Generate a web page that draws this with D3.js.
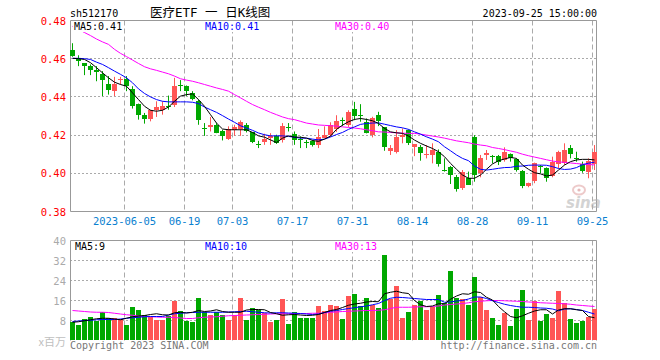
<!DOCTYPE html>
<html><head><meta charset="utf-8">
<script src="https://cdn.jsdelivr.net/npm/d3@7/dist/d3.min.js"></script>
<style>
html,body{margin:0;padding:0;background:#fff;}
svg{display:block;}
text{font-family:"DejaVu Sans Mono","Liberation Mono",monospace;font-size:10px;}
</style></head><body>
<svg id="c" width="660" height="360"></svg>
<script>
const dates = ["05-23","05-24","05-25","05-26","05-29","05-30","05-31",
"06-01","06-02","06-05","06-06","06-07","06-08","06-09","06-12","06-13","06-14","06-15","06-16","06-19","06-20","06-21","06-26","06-27","06-28","06-29","06-30",
"07-03","07-04","07-05","07-06","07-07","07-10","07-11","07-12","07-13","07-14","07-17","07-18","07-19","07-20","07-21","07-24","07-25","07-26","07-27","07-28","07-31",
"08-01","08-02","08-03","08-04","08-07","08-08","08-09","08-10","08-11","08-14","08-15","08-16","08-17","08-18","08-21","08-22","08-23","08-24","08-25","08-28","08-29","08-30","08-31",
"09-01","09-04","09-05","09-06","09-07","09-08","09-11","09-12","09-13","09-14","09-15","09-18","09-19","09-20","09-21","09-22","09-25"];

const open = [0.4645,0.4604,0.4575,0.4560,0.4540,0.4518,0.4465,0.4430,0.4488,0.4495,
0.4442,0.4365,0.4307,0.4284,0.4333,0.4333,0.4353,0.4354,0.4462,0.4456,
0.4418,0.4377,0.4235,0.4246,0.4254,0.4219,0.4180,0.4225,0.4232,0.4254,
0.4214,0.4154,0.4167,0.4184,0.4193,0.4175,0.4242,0.4207,0.4177,0.4163,
0.4167,0.4149,0.4184,0.4200,0.4235,0.4280,0.4252,0.4339,0.4303,0.4270,
0.4203,0.4304,0.4240,0.4113,0.4110,0.4191,0.4226,0.4136,0.4136,0.4098,
0.4096,0.4113,0.4018,0.4035,0.3979,0.3927,0.3974,0.4191,0.4000,0.4096,
0.4088,0.4090,0.4070,0.4101,0.4073,0.4014,0.3930,0.3957,0.4036,0.4026,
0.3986,0.4049,0.4056,0.4130,0.4079,0.4049,0.4009,0.4052];
const high = [0.4681,0.4618,0.4576,0.4570,0.4561,0.4535,0.4509,0.4505,0.4505,0.4509,
0.4456,0.4365,0.4316,0.4333,0.4377,0.4377,0.4407,0.4500,0.4488,0.4460,
0.4430,0.4386,0.4263,0.4295,0.4263,0.4228,0.4246,0.4254,0.4277,0.4263,
0.4214,0.4170,0.4207,0.4210,0.4202,0.4263,0.4263,0.4219,0.4193,0.4175,
0.4175,0.4232,0.4246,0.4267,0.4304,0.4292,0.4330,0.4374,0.4362,0.4287,
0.4296,0.4322,0.4240,0.4148,0.4226,0.4235,0.4230,0.4153,0.4148,0.4148,
0.4157,0.4125,0.4078,0.4038,0.3991,0.4017,0.4009,0.4200,0.4096,0.4122,
0.4096,0.4096,0.4136,0.4104,0.4078,0.4017,0.3951,0.4056,0.4043,0.4031,
0.4087,0.4118,0.4157,0.4148,0.4113,0.4061,0.4078,0.4148];
const low = [0.4610,0.4561,0.4514,0.4514,0.4482,0.4404,0.4412,0.4404,0.4465,0.4430,
0.4339,0.4281,0.4260,0.4272,0.4295,0.4307,0.4333,0.4347,0.4430,0.4405,
0.4382,0.4254,0.4196,0.4219,0.4210,0.4172,0.4175,0.4196,0.4196,0.4214,
0.4158,0.4132,0.4149,0.4149,0.4154,0.4161,0.4219,0.4149,0.4132,0.4132,
0.4140,0.4132,0.4184,0.4190,0.4217,0.4247,0.4243,0.4278,0.4270,0.4209,
0.4188,0.4247,0.4118,0.4096,0.4104,0.4157,0.4148,0.4090,0.4066,0.4078,
0.4052,0.4035,0.4009,0.3944,0.3904,0.3913,0.3939,0.3956,0.3979,0.4070,
0.4052,0.4043,0.4061,0.4061,0.4009,0.3922,0.3927,0.3948,0.4000,0.3956,
0.3979,0.4026,0.4043,0.4078,0.4061,0.4003,0.3974,0.4017];
const close = [0.4613,0.4588,0.4561,0.4540,0.4530,0.4488,0.4433,0.4465,0.4495,0.4456,
0.4354,0.4307,0.4286,0.4333,0.4347,0.4354,0.4349,0.4456,0.4458,0.4430,
0.4386,0.4277,0.4233,0.4254,0.4214,0.4193,0.4232,0.4242,0.4267,0.4225,
0.4163,0.4152,0.4181,0.4193,0.4158,0.4246,0.4240,0.4175,0.4175,0.4160,
0.4146,0.4189,0.4202,0.4252,0.4275,0.4278,0.4322,0.4304,0.4301,0.4212,
0.4292,0.4270,0.4136,0.4130,0.4191,0.4200,0.4160,0.4153,0.4104,0.4102,
0.4122,0.4049,0.4016,0.3991,0.3917,0.4009,0.3939,0.3991,0.4078,0.4108,
0.4086,0.4061,0.4113,0.4078,0.4017,0.3936,0.3948,0.4052,0.4034,0.3974,
0.4061,0.4113,0.4122,0.4101,0.4077,0.4014,0.4066,0.4113];

// volume, millions
const volume = [7.5,6.4,8.8,9.6,8.0,11.6,9.1,9.1,8.8,6.4,
13.6,12.4,10.4,9.6,8.4,8.4,10.0,16.0,12.0,7.7,
7.3,17.2,11.6,10.4,11.6,10.4,8.4,10.4,17.2,8.4,
13.2,12.4,11.2,7.6,8.4,16.8,6.8,11.6,9.2,9.2,
9.2,14.0,12.0,14.4,14.0,8.8,18.0,18.8,14.0,17.2,
14.4,13.2,34.4,16.7,22.0,9.2,11.6,14.4,16.0,12.4,
13.6,18.4,15.0,28.0,17.2,16.8,14.4,25.6,17.6,12.4,
9.2,6.4,11.2,6.0,12.8,20.4,8.4,16.0,8.0,10.8,
9.2,20.0,15.2,8.8,7.2,8.0,9.6,12.8];

const ma5 = [0.4602,0.4600,0.4596,0.4579,0.4553,0.4526,0.4500,0.4477,0.4465,0.4456,
0.4421,0.4386,0.4351,0.4330,0.4325,0.4330,0.4347,0.4377,0.4404,0.4412,
0.4416,0.4386,0.4351,0.4307,0.4263,0.4232,0.4228,0.4228,0.4228,0.4228,
0.4214,0.4196,0.4189,0.4175,0.4161,0.4184,0.4196,0.4189,0.4189,0.4184,
0.4172,0.4167,0.4179,0.4195,0.4230,0.4252,0.4270,0.4282,0.4287,0.4282,
0.4275,0.4261,0.4235,0.4217,0.4212,0.4209,0.4195,0.4174,0.4157,0.4143,
0.4130,0.4113,0.4087,0.4052,0.4021,0.3991,0.3974,0.3974,0.3991,0.4021,
0.4049,0.4066,0.4075,0.4083,0.4078,0.4043,0.4021,0.4003,0.3997,0.3986,
0.3991,0.4017,0.4043,0.4061,0.4070,0.4073,0.4073,0.4070];
const ma10 = [0.4602,0.4602,0.4600,0.4596,0.4582,0.4570,0.4553,0.4535,0.4518,0.4500,
0.4474,0.4442,0.4418,0.4400,0.4386,0.4377,0.4374,0.4374,0.4374,0.4374,
0.4372,0.4365,0.4347,0.4333,0.4319,0.4302,0.4284,0.4267,0.4249,0.4237,
0.4225,0.4211,0.4202,0.4196,0.4196,0.4196,0.4193,0.4189,0.4184,0.4184,
0.4179,0.4175,0.4179,0.4190,0.4203,0.4214,0.4230,0.4243,0.4256,0.4261,
0.4263,0.4264,0.4257,0.4250,0.4243,0.4238,0.4230,0.4217,0.4205,0.4191,
0.4179,0.4165,0.4139,0.4118,0.4096,0.4078,0.4066,0.4038,0.4021,0.4017,
0.4021,0.4026,0.4030,0.4031,0.4037,0.4038,0.4042,0.4043,0.4043,0.4042,
0.4035,0.4025,0.4020,0.4022,0.4030,0.4045,0.4053,0.4058];
const ma30 = [0.4769,0.4753,0.4737,0.4721,0.4703,0.4688,0.4675,0.4649,0.4628,0.4611,
0.4593,0.4575,0.4558,0.4547,0.4539,0.4530,0.4521,0.4509,0.4495,0.4488,
0.4482,0.4474,0.4465,0.4456,0.4447,0.4439,0.4430,0.4412,0.4395,0.4377,
0.4360,0.4346,0.4333,0.4319,0.4307,0.4295,0.4286,0.4281,0.4272,0.4263,
0.4258,0.4253,0.4251,0.4249,0.4247,0.4243,0.4240,0.4237,0.4233,0.4228,
0.4223,0.4217,0.4216,0.4214,0.4212,0.4210,0.4209,0.4209,0.4205,0.4200,
0.4195,0.4190,0.4184,0.4177,0.4170,0.4165,0.4160,0.4153,0.4148,0.4144,
0.4135,0.4130,0.4124,0.4117,0.4110,0.4100,0.4092,0.4085,0.4078,0.4071,
0.4064,0.4060,0.4057,0.4054,0.4051,0.4048,0.4046,0.4044];

const vma5 = [7.3,7.5,7.9,8.3,8.7,8.9,8.9,8.6,8.3,8.9,
9.5,9.8,10.0,10.4,10.7,10.3,10.2,11.1,11.3,11.0,
11.3,12.0,11.6,11.8,12.3,11.6,11.3,11.3,11.3,12.2,
12.4,12.4,12.3,11.2,10.7,10.1,10.3,10.4,10.2,10.0,
10.1,10.4,11.2,12.0,12.4,13.2,14.1,14.6,14.9,15.4,
15.6,15.5,18.7,19.3,19.7,19.1,18.8,16.0,14.3,13.6,
13.8,14.7,14.7,16.5,17.8,18.7,18.5,19.5,19.2,17.3,
16.2,13.6,11.5,9.6,9.1,9.9,10.9,11.8,12.3,12.3,
10.6,12.2,12.7,12.7,12.3,12.0,9.6,9.1];
const vma10 = [7.6,7.8,8.0,8.1,8.3,8.4,8.4,8.4,8.6,8.9,
9.1,9.3,9.5,9.6,9.6,9.6,10.2,10.7,10.9,11.1,
11.2,11.3,11.3,11.3,11.3,11.3,11.4,11.5,11.6,11.7,
11.5,11.3,11.1,11.0,11.1,11.1,11.0,10.9,10.8,10.6,
10.4,10.6,11.2,11.7,12.0,12.4,12.8,13.1,13.5,13.8,
14.3,14.8,16.0,16.9,17.3,17.2,17.0,16.8,16.6,16.4,
16.4,16.4,15.3,15.4,15.8,16.0,16.6,17.4,17.4,16.8,
15.9,15.2,14.5,14.0,13.6,13.3,13.3,13.2,13.0,12.9,
12.6,11.9,12.6,12.7,12.4,12.0,11.3,10.6];
const vma30 = [12.0,11.8,11.6,11.4,11.3,11.3,11.2,10.9,10.6,10.3,
10.1,9.8,9.6,9.5,9.4,9.3,9.3,9.2,9.0,8.8,
8.8,9.1,9.3,9.4,9.5,9.7,9.9,10.0,10.1,10.2,
10.3,10.4,10.5,10.6,10.7,10.7,10.7,10.8,10.8,10.8,
10.9,10.9,11.0,11.3,11.4,11.6,11.7,11.8,11.9,12.0,
12.0,12.1,12.3,12.8,13.3,13.3,13.3,13.4,13.5,13.5,
13.6,13.8,14.2,14.4,14.6,14.8,15.1,15.5,15.7,15.9,
16.0,16.0,15.9,15.8,15.7,15.6,15.4,15.3,15.1,15.0,
14.9,14.8,14.7,14.5,14.2,14.0,13.8,13.6];

const priceTicks = [0.38,0.40,0.42,0.44,0.46,0.48];
const volTicks = [8,16,24,32,40];
const xTickDates = ["06-05","06-19","07-03","07-17","07-31","08-14","08-28","09-11","09-25"];
const xTickLabels = ["2023-06-05","06-19","07-03","07-17","07-31","08-14","08-28","09-11","09-25"];

const symbol = "sh512170";
const title = "医疗ETF 一 日K线图";
const stamp = "2023-09-25 15:00:00";

// ---------- drawing ----------
const svg = d3.select("#c");
const L = 70, R = 597;
const RED = "#ff5555", GREEN = "#00a800", GRID = "#aaaaaa", FRAME = "#999999";

const x = d3.scalePoint().domain(dates).range([72.5, 594.5]);
const y = d3.scaleLinear().domain([0.38, 0.48]).range([211.5, 20.5]);
const yv = d3.scaleLinear().domain([0, 40]).range([340.5, 240.5]);
const crisp = v => Math.floor(v) + 0.5;

// header
svg.append("text").attr("x", 70).attr("y", 17).text(symbol);
svg.append("text").attr("x", 150).attr("y", 17)
  .style("font-family", "'DejaVu Sans Mono','Noto Sans CJK SC',monospace").style("font-size", "12.5px").text(title);
svg.append("text").attr("x", R).attr("y", 17).attr("text-anchor", "end").text(stamp);

function panel(top, bottom, ys, ticks, bottomLine) {
  const g = svg.append("g");
  g.selectAll(".h").data(ticks.filter(t => crisp(ys(t)) > top + 1 && crisp(ys(t)) < bottom - 1)).join("line")
    .attr("x1", L).attr("x2", R).attr("y1", d => crisp(ys(d))).attr("y2", d => crisp(ys(d)))
    .attr("stroke", GRID).attr("stroke-dasharray", "2,2");
  g.selectAll(".v").data(xTickDates).join("line")
    .attr("x1", d => x(d) - 2).attr("x2", d => x(d) - 2).attr("y1", top).attr("y2", bottom)
    .attr("stroke", GRID).attr("stroke-dasharray", "5,3");
  g.append("path").attr("fill", "none").attr("stroke", FRAME)
    .attr("d", bottomLine
      ? `M${L + 0.5},${bottom}V${top}H${R - 0.5}V${bottom}H${L + 0.5}`
      : `M${L + 0.5},${bottom}V${top}H${R - 0.5}V${bottom}`);
  return g;
}

// price panel
panel(20.5, 211.5, y, priceTicks, true);
svg.selectAll(".pt").data(priceTicks).join("text")
  .attr("x", 66).attr("y", d => y(d) + 4).attr("text-anchor", "end")
  .attr("fill", "#ff0000").style("font-size", "10.5px").text(d => d.toFixed(2));

// sina watermark
const wm = svg.append("g").attr("opacity", 0.55);
wm.append("ellipse").attr("cx", 579).attr("cy", 190).attr("rx", 6).attr("ry", 4.5)
  .attr("fill", "none").attr("stroke", "#e0a0a0").attr("stroke-width", 2);
wm.append("circle").attr("cx", 579).attr("cy", 190).attr("r", 1.6).attr("fill", "#d08080");
wm.append("text").attr("x", 566).attr("y", 208).style("font-family", "'DejaVu Sans',sans-serif")
  .style("font-size", "15px").style("font-weight", "bold").style("font-style", "italic")
  .attr("fill", "#b0b0b0").text("sina");

// candles
const idx = d3.range(dates.length);
const up = i => close[i] > open[i];
const cg = svg.append("g");
cg.selectAll(".wick").data(idx).join("line")
  .attr("x1", i => x(dates[i])).attr("x2", i => x(dates[i]))
  .attr("y1", i => y(high[i])).attr("y2", i => y(low[i]))
  .attr("stroke", i => up(i) ? RED : GREEN);
cg.selectAll(".body").data(idx).join("rect")
  .attr("x", i => x(dates[i]) - 2.5).attr("width", 5)
  .attr("y", i => Math.round(y(Math.max(open[i], close[i]))))
  .attr("height", i => Math.max(1, Math.round(Math.abs(y(open[i]) - y(close[i])))))
  .attr("fill", i => up(i) ? RED : GREEN);

function maLine(arr, ys, color) {
  svg.append("path").datum(arr)
    .attr("d", d3.line().x((d, i) => x(dates[i])).y(d => ys(d)))
    .attr("fill", "none").attr("stroke", color).attr("stroke-width", 1);
}
maLine(ma30, y, "#ff00ff");
maLine(ma10, y, "#0000ff");
maLine(ma5, y, "#000000");

function legend(xp, yp, color, txt) {
  const t = svg.append("text").attr("x", xp).attr("y", yp).attr("fill", color).text(txt);
  const b = t.node().getBBox();
  svg.insert("rect", () => t.node()).attr("x", b.x - 1).attr("y", b.y).attr("width", b.width + 2)
    .attr("height", b.height).attr("fill", "#fff");
}

// price legend
const f2 = d3.format(".2f");
legend(74, 30, "#000", "MA5:" + f2(ma5[ma5.length - 1]));
legend(205, 30, "#0000ff", "MA10:" + f2(ma10[ma10.length - 1]));
legend(335, 30, "#ff00ff", "MA30:" + f2(ma30[ma30.length - 1]));

// date labels
svg.selectAll(".dl").data(xTickDates).join("text")
  .attr("x", d => x(d) - 2).attr("y", 225).attr("text-anchor", "middle")
  .attr("fill", "#0a80d0").style("font-size", "10.5px").text((d, i) => xTickLabels[i]);

// volume panel
panel(240.5, 340.5, yv, volTicks, false);
svg.selectAll(".vt").data(volTicks).join("text")
  .attr("x", 66).attr("y", d => yv(d) + 4).attr("text-anchor", "end")
  .attr("fill", "#aaaaaa").style("font-size", "10.5px").text(d => d);
svg.append("text").attr("x", 66).attr("y", 346).attr("text-anchor", "end")
  .style("font-family", "'Noto Sans CJK SC',sans-serif").style("font-size", "11px")
  .attr("fill", "#c0c0c0").text("x百万");

svg.append("g").selectAll("rect").data(idx).join("rect")
  .attr("x", i => x(dates[i]) - 2.5).attr("width", 5)
  .attr("y", i => Math.round(yv(volume[i])))
  .attr("height", i => 340 - Math.round(yv(volume[i])))
  .attr("fill", i => up(i) ? RED : GREEN);

maLine(vma30, yv, "#ff00ff");
maLine(vma10, yv, "#0000ff");
maLine(vma5, yv, "#000000");

const fi = v => String(Math.floor(v));
legend(75, 250, "#000", "MA5:" + fi(vma5[vma5.length - 1]));
legend(205, 250, "#0000ff", "MA10:" + fi(vma10[vma10.length - 1]));
legend(335, 250, "#ff00ff", "MA30:" + fi(vma30[vma30.length - 1]));

// footer
svg.append("text").attr("x", 70).attr("y", 349).attr("fill", "#777").text("Copyright 2023 SINA.COM");
svg.append("text").attr("x", R).attr("y", 349).attr("text-anchor", "end").attr("fill", "#777").text("http://finance.sina.com.cn");
</script>
</body></html>
